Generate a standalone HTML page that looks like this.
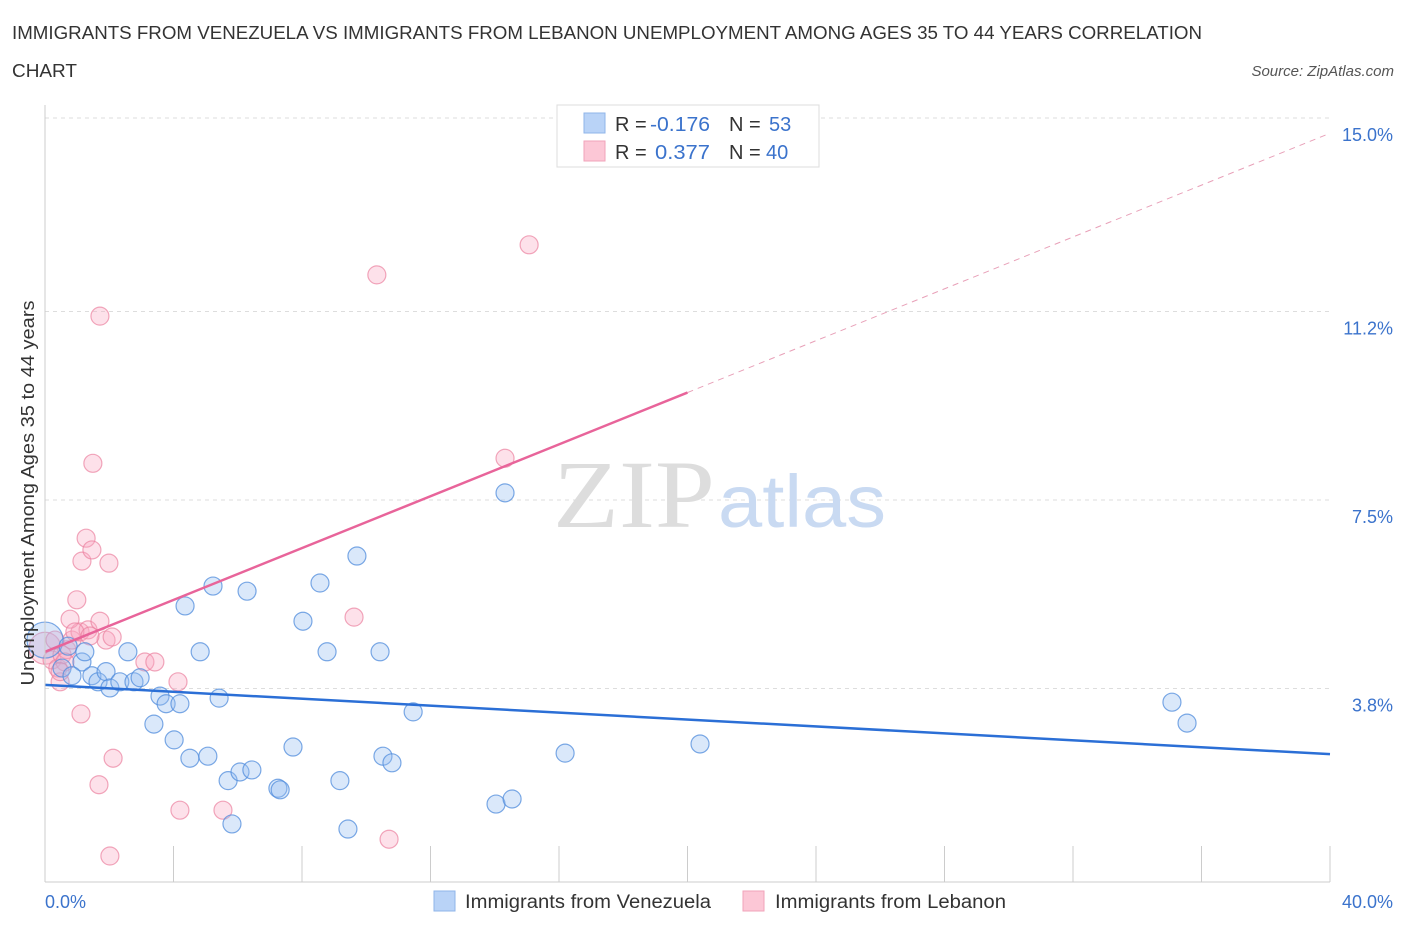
<!DOCTYPE html>
<html><head><meta charset="utf-8">
<style>
body{margin:0;background:#fff;font-family:"Liberation Sans",sans-serif;}
</style></head>
<body>
<svg id="chart" width="1406" height="930" xmlns="http://www.w3.org/2000/svg" font-family="Liberation Sans, sans-serif">
<text x="12" y="39" font-size="18.5" fill="#333" textLength="1190" lengthAdjust="spacingAndGlyphs">IMMIGRANTS FROM VENEZUELA VS IMMIGRANTS FROM LEBANON UNEMPLOYMENT AMONG AGES 35 TO 44 YEARS CORRELATION</text>
<text x="12" y="77" font-size="18.5" fill="#333" textLength="65" lengthAdjust="spacingAndGlyphs">CHART</text>
<text x="1394" y="76" font-size="15" fill="#555" font-style="italic" text-anchor="end">Source: ZipAtlas.com</text>
<g id="grid"></g>
<text x="553" y="527" font-size="96" fill="#ddd" style="font-family:'Liberation Serif',serif" textLength="162" lengthAdjust="spacingAndGlyphs">ZIP</text>
<text x="718" y="527" font-size="74" fill="#c9daf2" textLength="168" lengthAdjust="spacingAndGlyphs">atlas</text>
<g id="marks"></g>
<g id="axes"></g>
<g>
<rect x="557" y="105" width="262" height="62" fill="#fff" stroke="#ddd"/>
<rect x="584" y="113" width="21" height="20" fill="#b9d3f7" stroke="#8fb4ea"/>
<rect x="584" y="141" width="21" height="20" fill="#fcc7d6" stroke="#f1a3ba"/>
<text x="615" y="131" font-size="20" fill="#333">R =</text>
<text x="650" y="131" font-size="20" fill="#3b73cc" textLength="60" lengthAdjust="spacingAndGlyphs">-0.176</text>
<text x="729" y="131" font-size="20" fill="#333">N =</text>
<text x="769" y="131" font-size="20" fill="#3b73cc">53</text>
<text x="615" y="159" font-size="20" fill="#333">R =</text>
<text x="655" y="159" font-size="20" fill="#3b73cc" textLength="55" lengthAdjust="spacingAndGlyphs">0.377</text>
<text x="729" y="159" font-size="20" fill="#333">N =</text>
<text x="766" y="159" font-size="20" fill="#3b73cc">40</text>
</g>
<g>
<rect x="434" y="891" width="21" height="20" fill="#b9d3f7" stroke="#8fb4ea"/>
<text x="465" y="908" font-size="19" fill="#333" textLength="246" lengthAdjust="spacingAndGlyphs">Immigrants from Venezuela</text>
<rect x="743" y="891" width="21" height="20" fill="#fcc7d6" stroke="#f1a3ba"/>
<text x="775" y="908" font-size="19" fill="#333" textLength="231" lengthAdjust="spacingAndGlyphs">Immigrants from Lebanon</text>
</g>
</svg>
<script>
const yTicks=[3.8,7.5,11.2,15.0];
const yTickLabels=["3.8%","7.5%","11.2%","15.0%"];
const xTickLabels=["0.0%","40.0%"];
const venX=[0,0.72,1.15,0.53,0.84,1.46,1.24,1.65,1.90,2.02,2.33,2.58,2.77,2.96,3.39,3.58,3.77,4.02,4.20,4.36,4.51,4.83,5.07,5.23,5.42,5.70,5.82,6.07,6.29,6.44,7.25,7.32,7.72,8.03,8.56,8.78,9.18,9.43,9.71,10.43,10.52,10.80,11.46,14.04,14.32,14.54,16.19,20.39,35.08,35.55];
const venY=[4.75,4.63,4.32,4.20,4.05,4.05,4.52,3.93,4.13,3.81,3.93,4.52,3.93,4.01,3.10,3.65,3.50,2.79,3.50,5.42,2.43,4.52,2.47,5.81,3.61,1.99,1.14,2.16,5.71,2.20,1.84,1.81,2.65,5.12,5.87,4.52,1.99,1.04,6.40,4.52,2.47,2.34,3.34,1.53,7.64,1.63,2.53,2.71,3.53,3.12];
const venR=[18,9,9,9,9,9,9,9,9,9,9,9,9,9,9,9,9,9,9,9,9,9,9,9,9,9,9,9,9,9,9,9,9,9,9,9,9,9,9,9,9,9,9,9,9,9,9,9,9,9];
const lebX=[0,0.22,0.40,0.53,0.68,0.84,0.99,1.09,1.15,1.28,1.34,1.46,1.49,1.71,1.71,1.90,1.99,2.09,2.12,1.12,1.68,2.02,3.11,3.42,4.14,4.20,5.54,9.62,10.33,10.71,14.32,15.07,0.47,0.78,0.93,0.62,0.31,1.40,0.47];
const lebY=[4.59,4.36,4.20,4.46,4.56,4.75,5.54,4.91,6.30,6.75,4.95,6.52,8.22,5.12,11.11,4.75,6.26,4.81,2.43,3.30,1.91,0.51,4.32,4.32,3.93,1.41,1.41,5.20,11.92,0.84,8.32,12.51,3.93,5.16,4.91,4.32,4.75,4.83,4.13];
const lebR=[16,9,9,9,9,9,9,9,9,9,9,9,9,9,9,9,9,9,9,9,9,9,9,9,9,9,9,9,9,9,9,9,9,9,9,9,9,9,9];
const venTrend=[3.87,2.51];
const lebTrend=[4.52,14.7];
const lebSolidEnd=20.0;
const NS='http://www.w3.org/2000/svg';
const X0=45,X1=1330,Y0=882,Y15=118;
function sx(v){return X0+v/40*(X1-X0);}
function sy(v){return Y0-v/15*(Y0-Y15);}
function mk(tag,at,parent){const e=document.createElementNS(NS,tag);for(const k in at)e.setAttribute(k,at[k]);parent.appendChild(e);return e;}
const grid=document.getElementById('grid'),marks=document.getElementById('marks'),axes=document.getElementById('axes');
yTicks.forEach((t,i)=>{
 const g=mk('line',{x1:X0,x2:X1,y1:sy(t),y2:sy(t),stroke:'#ddd','stroke-dasharray':'4,4'},grid);
 
 
 const l=mk('text',{x:1393,y:sy(t)+23,'font-size':18,fill:'#3b73cc','text-anchor':'end'},axes);
 l.textContent=yTickLabels[i];
 
 
});
const ax=mk('line',{x1:X0,x2:X1,y1:Y0,y2:Y0,stroke:'#ccc'},axes);


const ay=mk('line',{x1:X0,x2:X0,y1:105,y2:Y0,stroke:'#ccc'},axes);


for(let i=0;i<=10;i++){const t=mk('line',{x1:sx(i*4),x2:sx(i*4),y1:Y0,y2:Y0-36,stroke:'#ccc'},axes);
 
 }
[[0,'start',45],[40,'end',1393]].forEach((p,i)=>{const t=mk('text',{x:p[2],y:908,'font-size':18,fill:'#3b73cc','text-anchor':p[1]},axes);t.textContent=xTickLabels[i];
 
 });
const yt=mk('text',{x:0,y:0,'font-size':18.5,fill:'#333','text-anchor':'middle',textLength:385,lengthAdjust:'spacingAndGlyphs',transform:'translate(34,493) rotate(-90)'},axes);
yt.textContent='Unemployment Among Ages 35 to 44 years';


lebX.forEach((x,i)=>{const c=mk('circle',{cx:sx(x),cy:sy(lebY[i]),r:lebR[i],fill:'rgba(248,170,195,0.35)',stroke:'rgba(235,130,160,0.7)','stroke-width':1.2},marks);
 
 });
venX.forEach((x,i)=>{const c=mk('circle',{cx:sx(x),cy:sy(venY[i]),r:venR[i],fill:'rgba(150,190,240,0.35)',stroke:'rgba(80,140,220,0.75)','stroke-width':1.2},marks);
 
 });
const vl=mk('line',{x1:sx(0),y1:sy(venTrend[0]),x2:sx(40),y2:sy(venTrend[1]),stroke:'#2b6fd6','stroke-width':2.5},marks);


const lm=(x)=>lebTrend[0]+(lebTrend[1]-lebTrend[0])*x/40;
const ll=mk('line',{x1:sx(0),y1:sy(lm(0)),x2:sx(lebSolidEnd),y2:sy(lm(lebSolidEnd)),stroke:'#e8649a','stroke-width':2.5},marks);


const ld=mk('line',{x1:sx(lebSolidEnd),y1:sy(lm(lebSolidEnd)),x2:sx(40),y2:sy(lm(40)),stroke:'#e8a0b8','stroke-width':1,'stroke-dasharray':'6,5'},marks);


</script>
</body></html>
